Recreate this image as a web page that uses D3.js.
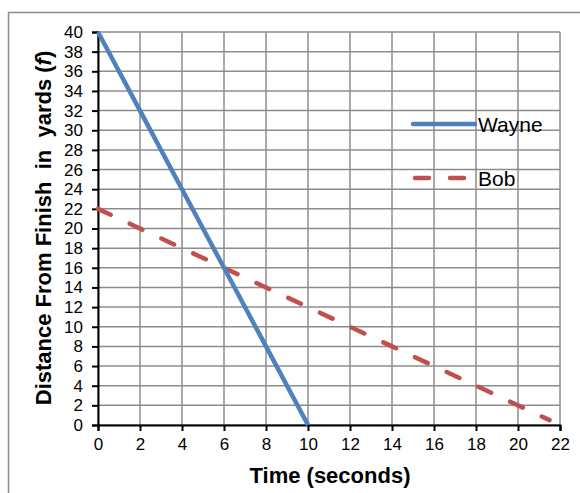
<!DOCTYPE html>
<html><head><meta charset="utf-8">
<script src="https://cdn.jsdelivr.net/npm/d3@7"></script>
<style>
html,body{margin:0;padding:0;background:#fff;}
svg{display:block;}
text{font-family:"Liberation Sans",Arial,sans-serif;fill:#000;}
</style></head>
<body><svg id="chart" width="580" height="493"></svg>
<script>
const xTicks = [0,2,4,6,8,10,12,14,16,18,20,22];
const yTicks = [0,2,4,6,8,10,12,14,16,18,20,22,24,26,28,30,32,34,36,38,40];
const wayneX = [0,2,4,6,8,10];
const wayneY = [40,32,24,16,8,0];
const bobX = [0,2,4,6,8,10,12,14,16,18,20,21.5];
const bobY = [22,20,18,16,14,12,10,8,6,4,2,0.5];
const seriesNames = ["Wayne","Bob"];
const seriesColors = ["#4F81BD","#C0504D"];

const svg = d3.select("#chart");
const m = {left:98, right:560, top:32, bottom:425};
const x = d3.scaleLinear().domain([0,22]).range([m.left,m.right]);
const y = d3.scaleLinear().domain([0,40]).range([m.bottom,m.top]);

// outer frame
svg.append("rect").attr("x",8.5).attr("y",12.5).attr("width",600).attr("height",600)
  .attr("fill","#fff").attr("stroke","#8c8c8c").attr("stroke-width",1.5);

// grid
const g = svg.append("g");
g.selectAll(".vg").data(xTicks).join("line")
  .attr("x1",d=>x(d)).attr("x2",d=>x(d)).attr("y1",m.top).attr("y2",m.bottom)
  .attr("stroke","#8c8c8c").attr("stroke-width",1.5);
g.selectAll(".hg").data(yTicks).join("line")
  .attr("y1",d=>y(d)).attr("y2",d=>y(d)).attr("x1",m.left).attr("x2",m.right)
  .attr("stroke","#8c8c8c").attr("stroke-width",1.5);

// axes
const xAxis = d3.axisBottom(x).tickValues(xTicks).tickSize(6).tickPadding(7).tickFormat(d3.format("d"));
const yAxis = d3.axisLeft(y).tickValues(yTicks).tickSize(6).tickPadding(9).tickFormat(d3.format("d"));
const gx = svg.append("g").attr("transform",`translate(0,${m.bottom})`).call(xAxis);
const gy = svg.append("g").attr("transform",`translate(${m.left},0)`).call(yAxis);
[gx,gy].forEach(a=>{
  a.select(".domain").attr("stroke","#000").attr("stroke-width",2);
  a.selectAll(".tick line").attr("stroke","#000").attr("stroke-width",2);
  a.selectAll(".tick text").attr("font-family","Liberation Sans, Arial, sans-serif").attr("font-size",17).attr("fill","#000");
});

// lines
const line = d3.line().x(d=>x(d[0])).y(d=>y(d[1]));
const wayne = wayneX.map((v,i)=>[v,wayneY[i]]);
const bob = bobX.map((v,i)=>[v,bobY[i]]);
svg.append("path").datum(bob).attr("d",line).attr("fill","none")
  .attr("stroke",seriesColors[1]).attr("stroke-width",4.5).attr("stroke-linecap","round")
  .attr("stroke-dasharray","14 21");
svg.append("path").datum(wayne).attr("d",line).attr("fill","none")
  .attr("stroke",seriesColors[0]).attr("stroke-width",4.5);

// legend
const leg = svg.append("g");
leg.append("line").attr("x1",413).attr("x2",475).attr("y1",124).attr("y2",124)
  .attr("stroke",seriesColors[0]).attr("stroke-width",4.5).attr("stroke-linecap","round");
leg.append("text").attr("x",478).attr("y",131.5).attr("font-size",21).text(seriesNames[0]);
leg.append("line").attr("x1",415).attr("x2",475).attr("y1",178).attr("y2",178)
  .attr("stroke",seriesColors[1]).attr("stroke-width",4.5).attr("stroke-linecap","round")
  .attr("stroke-dasharray","14 21");
leg.append("text").attr("x",478).attr("y",185.5).attr("font-size",21).text(seriesNames[1]);

// axis titles
svg.append("text").attr("x",330).attr("y",483).attr("text-anchor","middle")
  .attr("font-size",22).attr("font-weight","bold").text("Time (seconds)");
const yt = svg.append("text").attr("transform","translate(51,228) rotate(-90)")
  .attr("text-anchor","middle").attr("font-size",22).attr("font-weight","bold")
  .style("white-space","pre");
yt.append("tspan").text("Distance From Finish  in  yards (");
yt.append("tspan").attr("font-style","italic").text("f");
yt.append("tspan").text(")");
</script></body></html>
